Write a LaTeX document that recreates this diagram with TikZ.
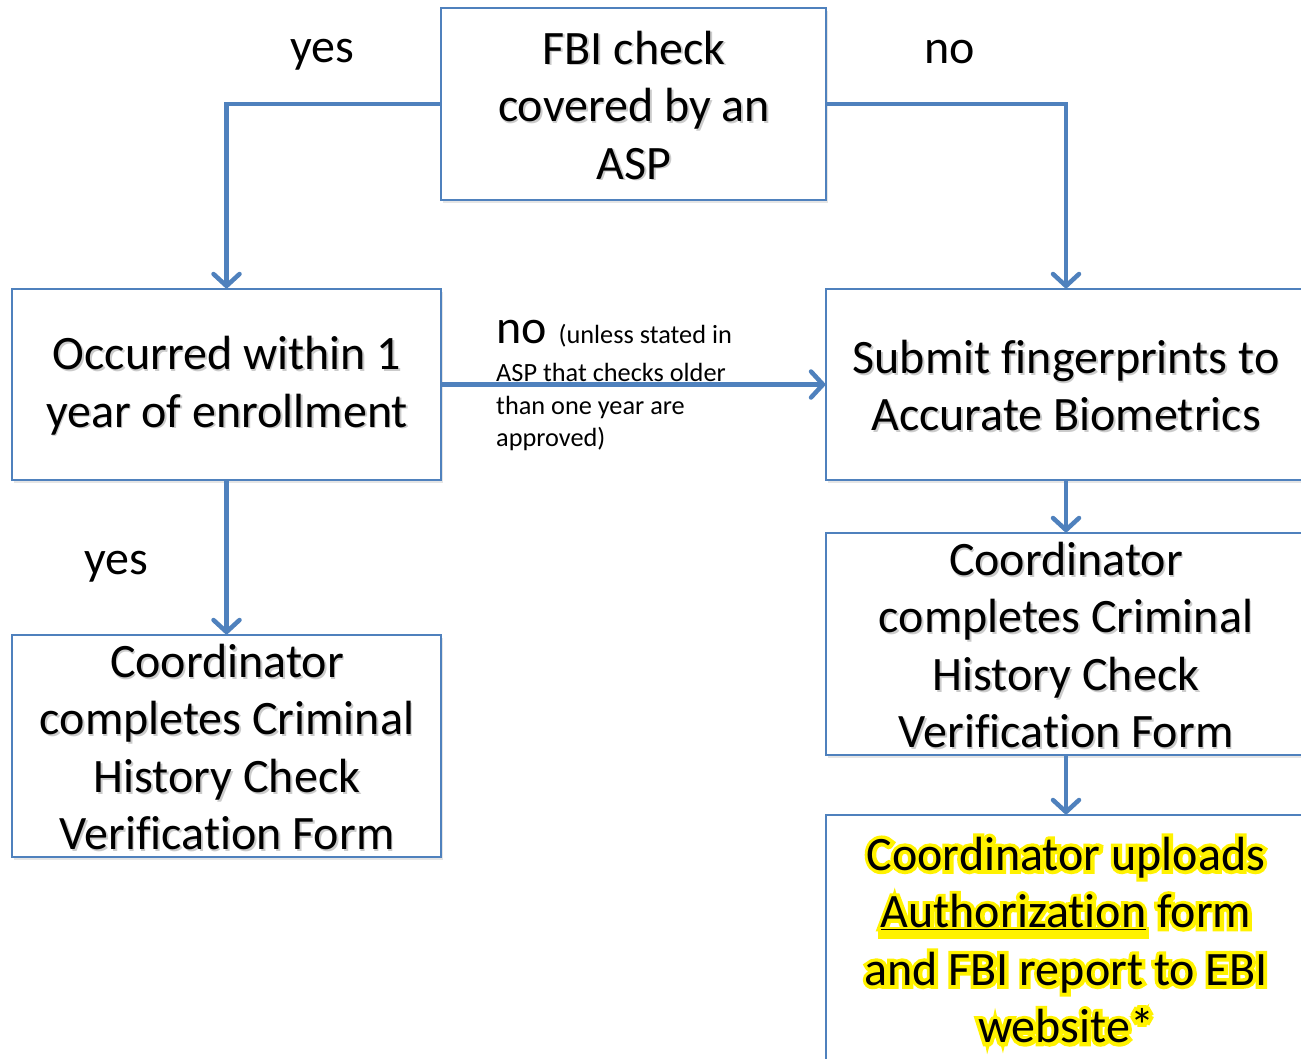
\documentclass[tikz,border=0pt]{standalone}
\usepackage{fontspec}
\setmainfont[Ligatures=CommonOff]{Carlito}
\newfontfamily\glowfont[FakeBold=15,Ligatures=CommonOff]{Carlito}
\usetikzlibrary{arrows.meta,shadows,calc}
\definecolor{bblue}{RGB}{79,129,189}
\newcommand\bigfont{\fontsize{48}{57.5}\selectfont}
\newcommand\smallfont{\fontsize{26.3}{32}\selectfont}
\newcommand\nofont{\fontsize{48}{48}\selectfont}
\newcommand\shtxt[3]{%
  \node[txt,text=black!45,opacity=.45] (#2s) at ($(#1)+(1.8,1.8)$) {#3};
  \node[txt] (#2) at (#1) {#3};}
\newif\ifglow
\newcommand\gl[1]{\makebox[0pt][l]{\glowtrue\color{yellow}\glowfont #1}#1}
\newcommand\ulx[1]{\ifglow #1\else\setbox0=\hbox{#1}\makebox[0pt][l]{\color{yellow}\kern-3pt\rule[-11pt]{\dimexpr\wd0+6pt\relax}{12pt}}\underline{#1}\fi}
\begin{document}
\begin{tikzpicture}[x=1pt,y=-1pt,
  box/.style={draw=bblue, line width=1.5pt, fill=white, inner sep=0pt,
    drop shadow={shadow xshift=2pt,shadow yshift=-3pt,opacity=.2}},
  txt/.style={align=center, font=\bigfont, inner sep=0pt},
  lbl/.style={font=\bigfont, inner sep=0pt},
  small/.style={font=\smallfont, inner sep=0pt, anchor=base west},
  arr/.style={draw=bblue, line width=4.5pt,
    -{Straight Barb[length=12pt,width=26pt,round]}}]
\useasboundingbox (0,0) rectangle (1301,1058);
\clip (0,0) rectangle (1301,1058);
\fill[white] (0,0) rectangle (1301,1058);
% boxes
\node[box, minimum width=385pt, minimum height=192pt] (fbi) at (633.5,104) {};
\node[box, minimum width=429pt, minimum height=191pt] (occ) at (226.5,384.5) {};
\node[box, minimum width=480pt, minimum height=191pt] (sub) at (1066,384.5) {};
\node[box, minimum width=429pt, minimum height=222pt] (cl) at (226.5,746) {};
\node[box, minimum width=480pt, minimum height=222pt] (cr) at (1066,644) {};
\node[box, minimum width=480pt, minimum height=255pt] (up) at (1066,942.5) {};
% texts
\shtxt{634,105}{tfbi}{FBI check\\covered by an\\ASP}
\shtxt{227,385.5}{tocc}{Occurred within 1\\year of enrollment}
\shtxt{1066,385.5}{tsub}{Submit fingerprints to\\Accurate Biometrics}
\shtxt{227,747}{tcl}{Coordinator\\completes Criminal\\History Check\\Verification Form}
\shtxt{1066,645}{tcr}{Coordinator\\completes Criminal\\History Check\\Verification Form}
\node[txt] (tup) at (1066,940) {\gl{Coordinator uploads}\\\gl{\ulx{Authorization} form}\\\gl{and FBI report to EBI}\\\gl{website*}};
% arrows
\draw[arr] (fbi.west) -| (occ.north);
\draw[arr] (fbi.east) -| (sub.north);
\draw[arr] (occ.east) -- (sub.west);
\draw[arr] (occ.south) -- (cl.north);
\draw[arr] (sub.south) -- (cr.north);
\draw[arr] (cr.south) -- (up.north);
% labels
\node[lbl] (yes1) at (322,55) {yes};
\node[lbl] (no1) at (950,52) {no};
\node[lbl] (yes2) at (116,567) {yes};
\node[small] (m1) at (496,343) {{\nofont no}\ \ (unless stated in};
\node[small] (m2) at (496,381) {ASP that checks older};
\node[small] (m3) at (496,414) {than one year are};
\node[small] (m4) at (496,446) {approved)};
\end{tikzpicture}
\end{document}
